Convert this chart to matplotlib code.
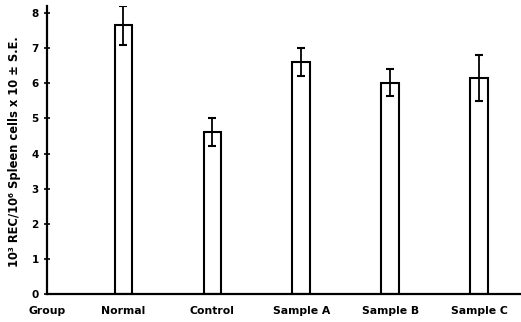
import matplotlib
matplotlib.use("Agg")
import matplotlib.pyplot as plt

groups = ["Normal", "Control", "Sample A", "Sample B", "Sample C"]
means = [7.65, 4.6, 6.6, 6.02, 6.15]
errors = [0.55, 0.4, 0.4, 0.38, 0.65]
yticks = [0, 1, 2, 3, 4, 5, 6, 7, 8]

W, H = 521, 322
fig = plt.figure(figsize=(W / 100, H / 100), dpi=100)
ax = fig.add_axes([47 / W, (H - 294) / H, (W - 47) / W, (294 - 6) / H])

pos = list(range(1, len(groups) + 1))
ax.bar(pos, means, width=0.2, color="white", edgecolor="black", linewidth=1.5, zorder=2)
ax.errorbar(pos, means, yerr=errors, fmt="none", ecolor="black", elinewidth=1.3,
            capsize=2.6, capthick=1.5, zorder=3)

ax.set_xlim(0.14, 5.47)
ax.set_ylim(0, 8.2)
ax.set_yticks(yticks)
ax.set_yticklabels([str(t) for t in yticks], fontsize=7.5, fontweight="bold")
ax.tick_params(axis="y", direction="inout", length=4, width=1.2, pad=4)
ax.set_xticks([0.14] + pos)
ax.set_xticklabels(["Group"] + groups, fontsize=7.8, fontweight="bold")
ax.tick_params(axis="x", length=0, pad=9)

for s in ["top", "right"]:
    ax.spines[s].set_visible(False)
for s in ["left", "bottom"]:
    ax.spines[s].set_linewidth(1.6)

fig.text(15 / W, 1 - 152 / H, "10³ REC/10⁶ Spleen cells x 10 ± S.E.",
         rotation=90, ha="center", va="center", fontsize=8.3, fontweight="bold")

fig.savefig("out.png", dpi=100)
